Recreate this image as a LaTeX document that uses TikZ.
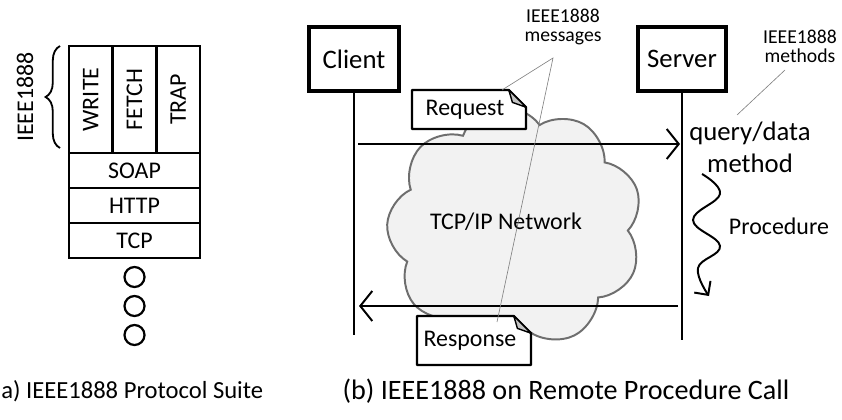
\documentclass[tikz,border=0pt]{standalone}
\usepackage{fontspec}
\setmainfont{Carlito}
\usepackage{tikz}
\usetikzlibrary{arrows.meta,shapes.symbols,decorations.pathreplacing,positioning,calc}
\definecolor{cloudfill}{HTML}{F2F2F2}
\definecolor{cloudline}{HTML}{6E6E6E}
\definecolor{foldgray}{HTML}{C4C4C4}
\tikzset{big label/.style={font=\fontsize{19}{23}\selectfont},
  mid label/.style={font=\fontsize{17}{20}\selectfont},
  small label/.style={font=\fontsize{14}{13.5}\selectfont},
  caption label/.style={font=\fontsize{17.5}{20}\selectfont},
  layer/.style={draw,line width=1.8pt,outer sep=0pt,inner sep=0pt,mid label},
  row/.style={layer,minimum width=3.275cm,minimum height=0.875cm},
  column/.style={layer,minimum width=1.092cm,minimum height=2.675cm},
  dot/.style={circle,draw,line width=1.6pt,minimum size=0.5cm,inner sep=0pt},
  host/.style={draw,line width=2.2pt,big label,minimum width=2.25cm,minimum height=1.6cm},
  lifeline/.style={line width=1.6pt},
  msg/.style={line width=1.4pt,-{Straight Barb[length=3mm,width=7.5mm]}},
  notebody/.style={minimum width=2.85cm,inner sep=0pt,outer sep=0pt},
  noteedge/.style={draw=black,fill=white,line width=1.6pt,line join=round},
  notefold/.style={draw=black,fill=foldgray,line width=1pt,line join=round},
  leader/.style={draw=gray,line width=0.45pt}}
\def\foldsz{0.43cm}
% a message sheet with a dog-ear: name, centre, height, text
\newcommand\msgnote[4]{%
  \path (#2) node[notebody,minimum height=#3] (#1) {};
  \filldraw[noteedge] (#1.south west) -- (#1.north west) -- ([xshift=-\foldsz]#1.north east)
    -- ([yshift=-\foldsz]#1.north east) -- (#1.south east) -- cycle;
  \filldraw[notefold] ([xshift=-\foldsz]#1.north east) -- ([xshift=-0.34cm,yshift=-0.31cm]#1.north east)
    -- ([yshift=-\foldsz]#1.north east) -- cycle;
  \node[mid label] (#1 text) at ([xshift=-0.1cm]#1.center) {#4};}

\begin{document}
\begin{tikzpicture}[x=0.025cm,y=-0.025cm]
  \useasboundingbox (0,0) rectangle (842,420);

  % (a) protocol stack
  \node[row] (soap) at (134.5,170.5) {SOAP};
  \node[row,below=0pt of soap] (http) {HTTP};
  \node[row,below=0pt of http] (tcp) {TCP};
  \node[column,anchor=south west] (write) at (soap.north west) {\rotatebox{90}{WRITE}};
  \node[column,right=0pt of write] (fetch) {\rotatebox{90}{FETCH}};
  \node[column,right=0pt of fetch] (trap) {\rotatebox{90}{TRAP}};
  \foreach \k/\y in {1/277,2/306,3/335}
    \node[dot] (dot\k) at (134.5,\y) {};
  \coordinate (brace bot) at (60,148);
  \coordinate (brace top) at (60,46);
  \draw[line width=1.3pt,decorate,decoration={brace,amplitude=0.36cm,aspect=0.5}] (brace bot) -- (brace top);
  \node[mid label,rotate=90] (suite) at (25,97) {IEEE1888};
  \node[caption label,anchor=west,inner sep=0pt] (capa) at (1,391) {a) IEEE1888 Protocol Suite};

  % (b) remote procedure call
  \node[cloud,cloud puffs=9,cloud puff arc=125,cloud ignores aspect,draw=cloudline,fill=cloudfill,
    line width=1.4pt,minimum width=6.4cm,minimum height=6.1cm,rotate=8] (net) at (515,228) {};
  \node[mid label] (netlabel) at (506,222) {TCP/IP Network};

  \node[host] (client) at (354,59) {Client};
  \node[host,minimum width=2.2cm] (server) at (682,59) {Server};
  \coordinate (client end) at (354,335);
  \coordinate (server end) at (682,340);
  \draw[lifeline] (client) -- (client end);
  \draw[lifeline] (server) -- (server end);

  \coordinate (req a) at (358,144);
  \coordinate (req b) at (680,144);
  \coordinate (res a) at (678,306);
  \coordinate (res b) at (359,306);
  \draw[msg] (req a) -- (req b);
  \draw[msg] (res a) -- (res b);

  \msgnote{req}{469,109.5}{0.975cm}{Request}
  \msgnote{res}{474,340.5}{1.225cm}{Response}

  \node[small label,align=center] (msglabel) at (563,27) {IEEE1888\\messages};
  \coordinate (msgtip) at (553,58);
  \coordinate (req pt) at (502,90);
  \coordinate (res pt) at (497,322);
  \draw[leader] (req pt) -- (msgtip) -- (res pt);

  \node[big label,align=center] (method) at (750,147) {query/data\\method};
  \node[small label,align=center] (methlabel) at (800,46) {IEEE1888\\methods};
  \coordinate (meth a) at (785,70);
  \coordinate (meth b) at (737,115);
  \draw[leader] (meth a) -- (meth b);

  \draw[line width=1.4pt,-{Straight Barb[length=2.5mm,width=5mm]}]
    plot[smooth,tension=0.7] coordinates {(702,174) (720,194) (693,220) (720,246) (698,268) (709,296)};
  \node[mid label,anchor=west] (proc) at (724,226) {Procedure};

  \node[caption label,font=\fontsize{20}{22}\selectfont] (capb) at (566,391) {(b) IEEE1888 on Remote Procedure Call};
\end{tikzpicture}
\end{document}
